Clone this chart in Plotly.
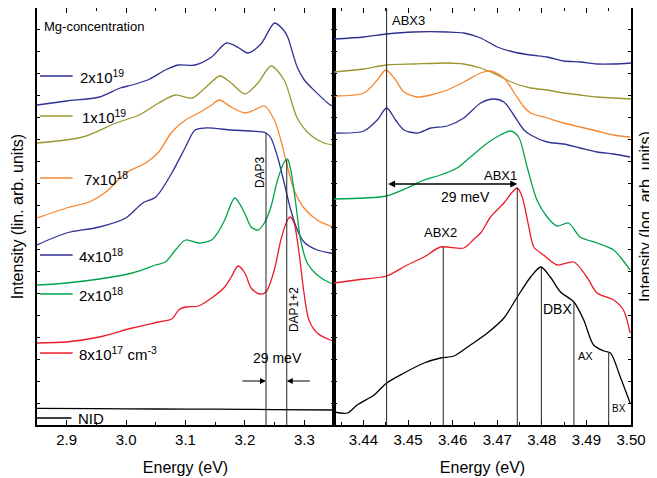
import plotly.graph_objects as go

# ---------------- Left panel: linear PL spectra (offset, arb. units) ----------------
e_2e19 = [2.85, 2.90, 2.955, 2.99, 3.01, 3.04, 3.066, 3.088, 3.116, 3.144, 3.169, 3.19, 3.205,
          3.227, 3.25, 3.265, 3.272, 3.288, 3.30, 3.316, 3.344, 3.35]
i_2e19 = [320, 324, 328, 337, 340, 346, 355, 360, 360, 368, 382, 377, 372,
          381, 402, 395, 388, 358, 345, 335, 320, 319]

e_1e19 = [2.85, 2.927, 2.983, 3.022, 3.055, 3.083, 3.111, 3.133, 3.158, 3.177, 3.2, 3.222,
          3.244, 3.266, 3.288, 3.3105, 3.3328, 3.35]
i_1e19 = [282, 288, 302, 310, 322, 330, 327, 337, 349, 342, 331, 342,
          359, 345, 307, 290, 282, 280]

e_7e18 = [2.85, 2.8995, 2.938, 2.966, 2.9995, 3.033, 3.055, 3.077, 3.1, 3.122, 3.144, 3.157,
          3.177, 3.2, 3.216, 3.233, 3.2495, 3.2605, 3.2717, 3.2828, 3.2995, 3.3217, 3.3438, 3.35]
i_7e18 = [207, 217, 223, 233, 252, 262, 273, 293, 305, 312, 320, 325,
          318, 312, 315, 319, 305, 285, 258, 235, 217, 205, 199, 198]

e_4e18 = [2.85, 2.8995, 2.955, 2.9995, 3.028, 3.05, 3.077, 3.1, 3.116, 3.133, 3.177, 3.2355,
          3.2438, 3.255, 3.2662, 3.2772, 3.2883, 3.2995, 3.3217, 3.3438, 3.35]
i_4e18 = [180, 192, 198, 207, 222, 228, 252, 278, 295, 297, 295, 292,
          287, 268, 242, 215, 195, 183, 175, 172, 171]

e_2e18 = [2.85, 2.8995, 2.955, 3.0105, 3.05, 3.066, 3.083, 3.1, 3.122, 3.144, 3.155, 3.166,
          3.183, 3.1995, 3.2105, 3.2217, 3.2328, 3.2438, 3.255, 3.2662, 3.2717, 3.2772,
          3.2855, 3.2938, 3.305, 3.3217, 3.3438, 3.35]
i_2e18 = [140, 142, 146, 152, 160, 163, 175, 185, 182, 185, 193, 205,
          227, 212, 198, 195, 202, 218, 245, 263, 266, 255,
          222, 185, 162, 150, 142, 141]

e_8e17 = [2.85, 2.8995, 2.955, 3.0105, 3.055, 3.077, 3.0885, 3.1, 3.122, 3.144, 3.166, 3.177,
          3.1885, 3.2, 3.2105, 3.2245, 3.2355, 3.2495, 3.2605, 3.2717, 3.2762, 3.2828,
          3.2912, 3.2995, 3.3078, 3.3217, 3.3438, 3.35]
i_8e17 = [82, 83, 88, 97, 103, 106, 115, 118, 119, 127, 138, 148,
          159, 152, 137, 131, 133, 155, 185, 205, 208, 202,
          172, 132, 105, 92, 85, 84]

e_nid = [2.85, 2.95, 3.05, 3.15, 3.25, 3.35]
i_nid = [16.7, 16.4, 16.0, 15.8, 15.4, 15.0]

# ---------------- Right panel: log PL spectra near band edge ----------------
er_2e19 = [3.4334, 3.4401, 3.4452, 3.4513, 3.4588, 3.4625, 3.4663, 3.47, 3.4737, 3.4775,
           3.4812, 3.4849, 3.4886, 3.4924, 3.4961, 3.50]
ir_2e19 = [386, 388, 391, 393, 393, 392, 387, 378, 373, 370, 368, 364, 363, 361, 361, 362]

er_1e19 = [3.4334, 3.4401, 3.4452, 3.4513, 3.4588, 3.4625, 3.4663, 3.47, 3.4737, 3.4775,
           3.4812, 3.4849, 3.4886, 3.4924, 3.4961, 3.50]
ir_1e19 = [353, 356, 360, 361, 362, 361, 357, 350, 342, 337, 335, 332, 330, 328, 327, 326]

er_7e18 = [3.4334, 3.4401, 3.4431, 3.4450, 3.4469, 3.4491, 3.4521, 3.4551, 3.4588, 3.4625,
           3.4663, 3.4685, 3.4715, 3.4737, 3.4760, 3.4775, 3.4812, 3.4849, 3.4886, 3.4924,
           3.4961, 3.4998]
ir_7e18 = [329, 332, 345, 355, 347, 333, 328, 330, 335, 343,
           352, 354, 347, 333, 318, 312, 307, 302, 298, 294,
           290, 288]

er_4e18 = [3.4334, 3.4401, 3.4431, 3.4452, 3.4472, 3.4491, 3.4521, 3.4551, 3.4588, 3.4625,
           3.4663, 3.4692, 3.4715, 3.4737, 3.4760, 3.4775, 3.4812, 3.4849, 3.4886, 3.4924,
           3.4961, 3.4998]
ir_4e18 = [292, 294, 305, 317, 305, 295, 292, 297, 299, 307,
           322, 326, 323, 310, 295, 290, 283, 281, 277, 273,
           271, 268]

er_2e18 = [3.4334, 3.4401, 3.4452, 3.4498, 3.4536, 3.4573, 3.4610, 3.4640, 3.4678, 3.4707,
           3.4730, 3.4748, 3.4767, 3.4789, 3.4812, 3.4834, 3.4860, 3.4886, 3.4924, 3.4961,
           3.4976, 3.4998]
ir_2e18 = [226, 227, 229, 237, 245, 250, 257, 268, 282, 290,
           294, 288, 258, 225, 208, 199, 202, 188, 182, 175,
           168, 155]

er_8e17 = [3.4334, 3.4401, 3.4452, 3.4498, 3.4536, 3.4573, 3.4625, 3.4648, 3.4663, 3.4685,
           3.4715, 3.4734, 3.4745, 3.4756, 3.4771, 3.4782, 3.4804, 3.4834, 3.4872, 3.4901,
           3.4924, 3.4961, 3.4983, 3.4998]
ir_8e17 = [142, 146, 149, 160, 168, 178, 177, 186, 192, 208,
           222, 233, 237, 228, 198, 178, 170, 160, 163, 148,
           132, 125, 115, 92]

er_nid = [3.4334, 3.4364, 3.4386, 3.4424, 3.4452, 3.4491, 3.4536, 3.4573, 3.4603, 3.4640,
          3.4678, 3.4715, 3.4745, 3.4775, 3.4798, 3.4819, 3.4842, 3.4872, 3.4894, 3.4916,
          3.4939, 3.4954, 3.4976, 3.4998]
ir_nid = [13, 12, 20, 30, 42, 52, 62, 67, 69, 80,
          92, 107, 128, 148, 158, 148, 133, 123, 105, 80,
          74, 72, 48, 22]

# peak / line markers (energy in eV, top of the drop line in axis units)
left_lines_e = [3.2355, 3.2705]
left_lines_top = [292, 265]
right_lines_e = [3.4452, 3.4579, 3.4745, 3.4799, 3.4872, 3.4950]
right_lines_top = [417, 178, 237, 158, 123, 72]

legend_labels = ["2x10<sup>19</sup>", "1x10<sup>19</sup>", "7x10<sup>18</sup>",
                 "4x10<sup>18</sup>", "2x10<sup>18</sup>", "8x10<sup>17</sup> cm<sup>-3</sup>", "NID"]

NAVY = "#2E3192"
OLIVE = "#9C9630"
ORANGE = "#F7862E"
GREEN = "#00A24B"
RED = "#EC1C2A"
BLACK = "#000000"
FONT = "Liberation Sans, Arial, sans-serif"

fig = go.Figure()

left_series = [(e_2e19, i_2e19, NAVY), (e_1e19, i_1e19, OLIVE), (e_7e18, i_7e18, ORANGE),
               (e_4e18, i_4e18, NAVY), (e_2e18, i_2e18, GREEN), (e_8e17, i_8e17, RED),
               (e_nid, i_nid, BLACK)]
for (ex, iy, c), lab in zip(left_series, legend_labels):
    fig.add_trace(go.Scatter(x=ex, y=iy, mode="lines", name=lab,
                             line=dict(color=c, width=1.3, shape="spline", smoothing=0.8),
                             xaxis="x", yaxis="y", showlegend=False))

right_series = [(er_2e19, ir_2e19, NAVY), (er_1e19, ir_1e19, OLIVE), (er_7e18, ir_7e18, ORANGE),
                (er_4e18, ir_4e18, NAVY), (er_2e18, ir_2e18, GREEN), (er_8e17, ir_8e17, RED),
                (er_nid, ir_nid, BLACK)]
for (ex, iy, c), lab in zip(right_series, legend_labels):
    fig.add_trace(go.Scatter(x=ex, y=iy, mode="lines", name=lab,
                             line=dict(color=c, width=1.3, shape="spline", smoothing=0.8),
                             xaxis="x2", yaxis="y2", showlegend=False))

shapes = []
for e, top in zip(left_lines_e, left_lines_top):
    shapes.append(dict(type="line", xref="x", yref="y", x0=e, x1=e, y0=0, y1=top,
                       line=dict(color="#222222", width=1)))
for e, top in zip(right_lines_e, right_lines_top):
    shapes.append(dict(type="line", xref="x2", yref="y2", x0=e, x1=e, y0=0, y1=top,
                       line=dict(color="#222222", width=1)))

# manual legend (sample lines)
leg_colors = [NAVY, OLIVE, ORANGE, NAVY, GREEN, RED, BLACK]
leg_y = [349, 309, 247, 170, 131, 72, 7]
leg_tx = [2.9183, 2.9217, 2.925, 2.9178, 2.9178, 2.9178, 2.915]
for c, yv, i in zip(leg_colors, leg_y, range(7)):
    x0 = 2.855 if i < 6 else 2.85
    x1 = 2.910 if i < 6 else 2.908
    shapes.append(dict(type="line", xref="x", yref="y", x0=x0, x1=x1, y0=yv, y1=yv,
                       line=dict(color=c, width=1.5)))

ann = []
for lab, yv, tx in zip(legend_labels, leg_y, leg_tx):
    ann.append(dict(x=tx, y=yv, xref="x", yref="y", text=lab, showarrow=False,
                    xanchor="left", yanchor="middle", font=dict(size=15, color="black", family=FONT)))
ann.append(dict(x=2.858, y=399, xref="x", yref="y", text="Mg-concentration", showarrow=False,
                xanchor="left", yanchor="middle", font=dict(size=13, color="black", family=FONT)))
ann.append(dict(x=3.2255, y=253, xref="x", yref="y", text="DAP3", showarrow=False, textangle=-90,
                font=dict(size=12, color="black", family=FONT)))
ann.append(dict(x=3.2828, y=115, xref="x", yref="y", text="DAP1+2", showarrow=False, textangle=-90,
                font=dict(size=12, color="black", family=FONT)))
ann.append(dict(x=3.255, y=67, xref="x", yref="y", text="29 meV", showarrow=False,
                font=dict(size=14, color="black", family=FONT)))
ann.append(dict(x=3.2355, y=44, ax=3.1933, ay=44, xref="x", yref="y", axref="x", ayref="y",
                text="", showarrow=True, arrowhead=2, arrowsize=1, arrowwidth=1.2, arrowcolor="black"))
ann.append(dict(x=3.2705, y=44, ax=3.3117, ay=44, xref="x", yref="y", axref="x", ayref="y",
                text="", showarrow=True, arrowhead=2, arrowsize=1, arrowwidth=1.2, arrowcolor="black"))

# right panel labels
ann.append(dict(x=3.4501, y=405, xref="x2", yref="y2", text="ABX3", showarrow=False,
                font=dict(size=13, color="black", family=FONT)))
ann.append(dict(x=3.4707, y=250, xref="x2", yref="y2", text="ABX1", showarrow=False,
                font=dict(size=13, color="black", family=FONT)))
ann.append(dict(x=3.4629, y=228, xref="x2", yref="y2", text="29 meV", showarrow=False,
                font=dict(size=14, color="black", family=FONT)))
ann.append(dict(x=3.4745, y=241, ax=3.4452, ay=241, xref="x2", yref="y2", axref="x2", ayref="y2",
                text="", showarrow=True, arrowhead=2, arrowside="end+start", arrowsize=1,
                arrowwidth=1.4, arrowcolor="black"))
ann.append(dict(x=3.4573, y=193, xref="x2", yref="y2", text="ABX2", showarrow=False,
                font=dict(size=13, color="black", family=FONT)))
ann.append(dict(x=3.4835, y=116, xref="x2", yref="y2", text="DBX", showarrow=False,
                font=dict(size=14, color="black", family=FONT)))
ann.append(dict(x=3.4898, y=69, xref="x2", yref="y2", text="AX", showarrow=False,
                font=dict(size=11, color="black", family=FONT)))
ann.append(dict(x=3.4974, y=17, xref="x2", yref="y2", text="BX", showarrow=False,
                font=dict(size=10, color="black", family=FONT)))

axis_common = dict(showline=True, linecolor="black", linewidth=1.5, mirror="ticks",
                   ticks="inside", tickcolor="black", showgrid=False, zeroline=False,
                   tickfont=dict(size=15, color="black", family=FONT))

# the page body adds an 8 px offset; figure is sized so the plot box lands where the reference has it
fig.update_layout(
    width=649, height=470,
    margin=dict(l=29, r=26, t=0, b=53, autoexpand=False),
    paper_bgcolor="white", plot_bgcolor="white",
    font=dict(family=FONT, color="black"),
    shapes=shapes, annotations=ann,
    xaxis=dict(domain=[0, 0.5], range=[2.85, 3.35], anchor="y", dtick=0.1, tick0=2.9,
               tickformat=".1f", ticklen=5,
               minor=dict(dtick=0.05, tick0=2.85, ticks="inside", ticklen=3, tickcolor="black"),
               title=dict(text="Energy (eV)", font=dict(size=16, color="black", family=FONT), standoff=15),
               **axis_common),
    xaxis2=dict(domain=[0.5, 1], range=[3.4334, 3.50], anchor="y2", dtick=0.01, tick0=3.44,
                tickformat=".2f", ticklen=5,
                minor=dict(dtick=0.005, tick0=3.435, ticks="inside", ticklen=3, tickcolor="black"),
                title=dict(text="Energy (eV)", font=dict(size=16, color="black", family=FONT), standoff=15),
                **axis_common),
    yaxis=dict(domain=[0, 1], range=[0, 417], anchor="x", showticklabels=False, dtick=22, ticklen=3,
               title=dict(text="Intensity (lin. arb. units)", font=dict(size=16, color="black", family=FONT),
                          standoff=8),
               **axis_common),
    yaxis2=dict(domain=[0, 1], range=[0, 417], anchor="x2", side="right", showticklabels=False,
                dtick=22, ticklen=3,
                title=dict(text="Intensity (log. arb. units)", font=dict(size=16, color="black", family=FONT),
                           standoff=8),
                **axis_common),
)

fig.write_html("out.html")
